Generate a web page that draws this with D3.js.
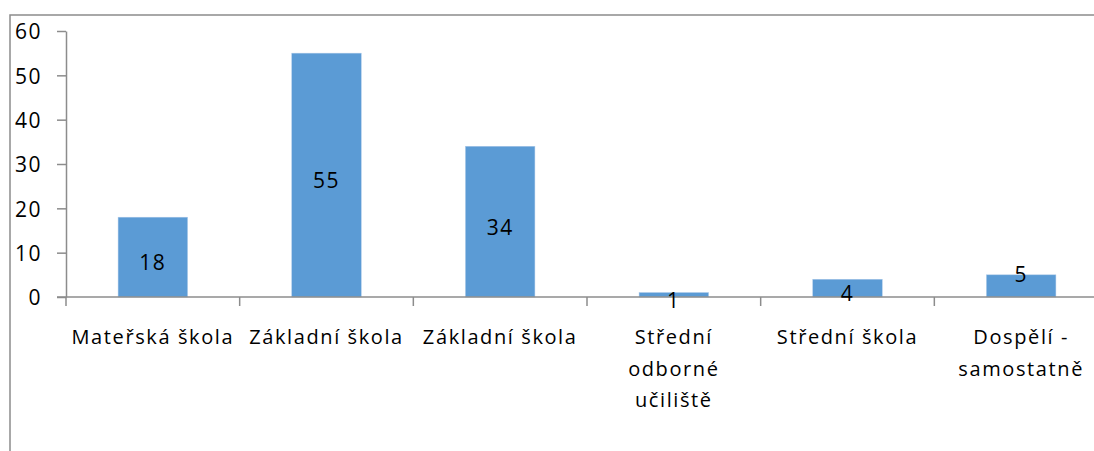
<!DOCTYPE html>
<html>
<head>
<meta charset="utf-8">
<script src="https://cdn.jsdelivr.net/npm/d3@7"></script>
<style>
  body { margin: 0; background: #fff; }
  svg { display: block; font-family: "Open Sans", sans-serif; }
</style>
</head>
<body>
<div id="chart"></div>
<script>
// chart data
const categories = ["Mateřská škola", "Základní škola", "Základní škola", "Střední\nodborné\nučiliště", "Střední škola", "Dospělí -\nsamostatně"];
const values = [18, 55, 34, 1, 4, 5];
const yTicks = [0, 10, 20, 30, 40, 50, 60];

const W = 1094, H = 451;
const plot = { left: 66, right: 1108, top: 31, bottom: 297 };

const svg = d3.select("#chart").append("svg")
  .attr("width", W)
  .attr("height", H);

// outer frame (runs off the right and bottom edge)
svg.append("rect")
  .attr("x", 10).attr("y", 15)
  .attr("width", 1200).attr("height", 600)
  .attr("fill", "none")
  .attr("stroke", "#8c8c8c")
  .attr("stroke-width", 1.5);

const x = d3.scaleBand()
  .domain(d3.range(categories.length))
  .range([plot.left, plot.right])
  .paddingInner(0.6)
  .paddingOuter(0.3);

const xStep = (plot.right - plot.left) / categories.length;

const y = d3.scaleLinear()
  .domain([0, 60])
  .range([plot.bottom, plot.top]);

// y axis
const yAxis = svg.append("g")
  .attr("transform", `translate(${plot.left},0)`)
  .call(d3.axisLeft(y).tickValues(yTicks).tickSize(9).tickSizeOuter(0).tickPadding(15));
yAxis.select(".domain").attr("stroke", "#8c8c8c").attr("stroke-width", 1.5);
yAxis.selectAll(".tick line").attr("stroke", "#8c8c8c").attr("stroke-width", 1.5);
yAxis.selectAll(".tick text")
  .attr("font-size", 21)
  .attr("font-family", "Open Sans, sans-serif")
  .attr("letter-spacing", 1.5)
  .attr("fill", "#000")
  .attr("dy", "0.38em");

// bars
svg.append("g").selectAll("rect")
  .data(values)
  .enter()
  .append("rect")
  .attr("x", (d, i) => x(i))
  .attr("y", d => y(d))
  .attr("width", x.bandwidth())
  .attr("height", d => y(0) - y(d))
  .attr("fill", "#5b9bd5")
  .attr("stroke", "#a9c8e8")
  .attr("stroke-width", 0.5);

// x axis line and category ticks
svg.append("line")
  .attr("x1", plot.left - 9).attr("x2", plot.right)
  .attr("y1", y(0)).attr("y2", y(0))
  .attr("stroke", "#8c8c8c").attr("stroke-width", 1.5);
svg.append("g").selectAll("line")
  .data(d3.range(categories.length + 1))
  .enter()
  .append("line")
  .attr("x1", i => plot.left + i * xStep)
  .attr("x2", i => plot.left + i * xStep)
  .attr("y1", y(0)).attr("y2", y(0) + 9)
  .attr("stroke", "#8c8c8c").attr("stroke-width", 1.5);

// category labels, wrapped on \n
const catLabels = svg.append("g").selectAll("text")
  .data(categories)
  .enter()
  .append("text")
  .attr("text-anchor", "middle")
  .attr("font-size", 20)
  .attr("letter-spacing", 1.6)
  .attr("fill", "#000")
  .attr("transform", (d, i) => `translate(${plot.left + (i + 0.5) * xStep},344)`);
catLabels.each(function (d) {
  d3.select(this).selectAll("tspan")
    .data(d.split("\n"))
    .enter()
    .append("tspan")
    .attr("x", 0)
    .attr("y", (s, j) => j * 31.5)
    .text(s => s);
});

// value labels in the middle of each bar; last one was nudged up in the original
svg.append("g").selectAll("text")
  .data(values)
  .enter()
  .append("text")
  .attr("text-anchor", "middle")
  .attr("font-size", 21)
  .attr("letter-spacing", 1.5)
  .attr("fill", "#000")
  .attr("x", (d, i) => x(i) + x.bandwidth() / 2)
  .attr("y", (d, i) => (y(d) + y(0)) / 2 + (i === values.length - 1 ? -4 : 13))
  .text(d => d);
</script>
</body>
</html>
